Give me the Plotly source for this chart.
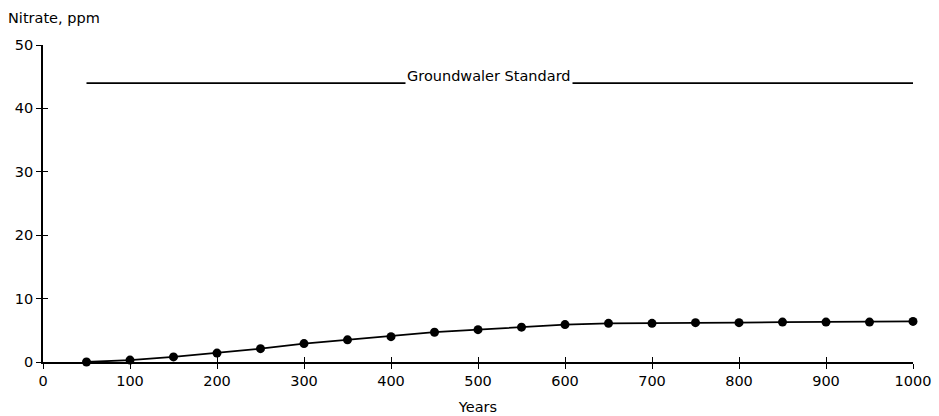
import plotly.graph_objects as go

years = [50, 100, 150, 200, 250, 300, 350, 400, 450, 500,
         550, 600, 650, 700, 750, 800, 850, 900, 950, 1000]
nitrate = [0.0, 0.3, 0.8, 1.4, 2.1, 2.9, 3.5, 4.0, 4.7, 5.1,
           5.5, 5.9, 6.1, 6.1, 6.2, 6.2, 6.3, 6.3, 6.3, 6.4]
standard_x = [50, 1000]
standard_y = [44, 44]
standard_label = "Groundwaler Standard"
x_ticks = [0, 100, 200, 300, 400, 500, 600, 700, 800, 900, 1000]
y_ticks = [0, 10, 20, 30, 40, 50]

FONT = "DejaVu Sans, Arial, Helvetica, sans-serif"
FS = 14.5

fig = go.Figure()
fig.add_trace(go.Scatter(x=standard_x, y=standard_y, mode="lines",
                         line=dict(color="black", width=1.7),
                         hoverinfo="skip", cliponaxis=False))
fig.add_trace(go.Scatter(x=years, y=nitrate, mode="lines+markers",
                         line=dict(color="black", width=1.8),
                         marker=dict(color="black", size=9),
                         cliponaxis=False))

fig.add_annotation(x=513, y=44, xref="x", yref="y", text=standard_label,
                   showarrow=False, yanchor="bottom", yshift=-3,
                   bgcolor="white", borderpad=1,
                   font=dict(family=FONT, size=FS, color="black"))
fig.add_annotation(x=0, y=1, xref="paper", yref="paper", text="Nitrate, ppm",
                   showarrow=False, xanchor="left", yanchor="bottom",
                   xshift=-37, yshift=17,
                   font=dict(family=FONT, size=FS, color="black"))

axis_common = dict(showgrid=False, zeroline=False, showline=True,
                   linecolor="black", linewidth=1.8, automargin=False,
                   ticks="outside", ticklen=5, tickwidth=1.4, tickcolor="black",
                   tickfont=dict(family=FONT, size=FS, color="black"))

fig.update_layout(
    width=939, height=416,
    margin=dict(l=43, r=26, t=45, b=54),
    paper_bgcolor="white", plot_bgcolor="white",
    showlegend=False,
    xaxis=dict(range=[0, 1000], tickvals=x_ticks, anchor="y",
               title=dict(text="Years", standoff=14,
                          font=dict(family=FONT, size=FS, color="black")),
               **axis_common),
    yaxis=dict(range=[0, 50], tickvals=y_ticks, anchor="x",
               **axis_common),
    xaxis2=dict(range=[0, 1000], tickvals=x_ticks, overlaying="x", anchor="y",
                side="bottom", showgrid=False, zeroline=False, showline=False,
                automargin=False,
                ticks="inside", ticklen=5, tickwidth=1.4, tickcolor="black",
                showticklabels=False),
    yaxis2=dict(range=[0, 50], tickvals=y_ticks, overlaying="y", anchor="x",
                side="left", showgrid=False, zeroline=False, showline=False,
                automargin=False,
                ticks="inside", ticklen=5, tickwidth=1.4, tickcolor="black",
                showticklabels=False),
)
# invisible trace to activate the overlay axes
fig.add_trace(go.Scatter(x=[0], y=[0], xaxis="x2", yaxis="y2", mode="markers",
                         marker=dict(opacity=0), hoverinfo="skip"))

fig.write_html("out.html", config={"displayModeBar": False},
               post_script="document.body.style.margin='0';")
